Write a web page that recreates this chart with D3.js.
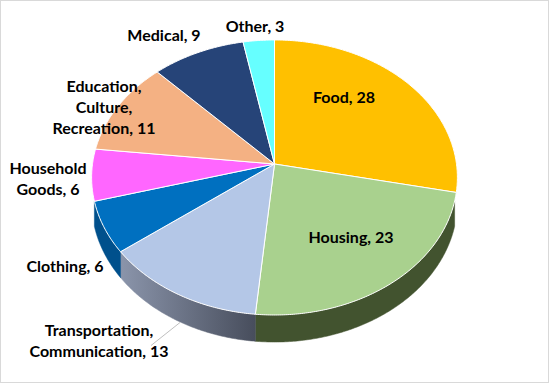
<!DOCTYPE html>
<html>
<head>
<meta charset="utf-8">
<script src="https://cdn.jsdelivr.net/npm/d3@7"></script>
<style>
  body { margin: 0; background: #fff; }
  svg { display: block; }
  .lbl { font-family: Lato, "Open Sans", sans-serif; font-weight: 700; font-size: 16px; fill: #000; }
</style>
</head>
<body>
<div id="chart"></div>
<script>
// spending shares
const categories = ["Food", "Housing", "Transportation, Communication", "Clothing",
  "Household Goods", "Education, Culture, Recreation", "Medical", "Other"];
const values = [28, 23, 13, 6, 6, 11, 9, 3];
const labelLines = [
  ["Food, 28"],
  ["Housing, 23"],
  ["Transportation,", "Communication, 13"],
  ["Clothing, 6"],
  ["Household", "Goods, 6"],
  ["Education,", "Culture,", "Recreation, 11"],
  ["Medical, 9"],
  ["Other, 3"]
];
const topColors = ["#FFC000", "#A9D18E", "#B4C7E7", "#0070C0", "#FF66FF", "#F4B183", "#264478", "#66FFFF"];
const sideColors = ["#a67d00", "#42532f", "url(#transGrad)", "#00508c", "#a642a6", "#9f7355", "#18294a", "#42a6a6"];

// label anchor points (center x, first baseline)
const labelPos = [[344, 103], [351, 243], [99, 336], [65, 272], [48, 174], [104, 92], [164, 41], [255, 32]];

const width = 550, height = 384;
const cx = 274.5, cy = 164, R = 182, K = 136.2, P = 0.098, depth = 24.4;
// part of the rim that faces the viewer
const sideFrom = Math.PI / 2 + 0.27, sideTo = 3 * Math.PI / 2 - 0.27;

const svg = d3.select("#chart").append("svg")
  .attr("width", width).attr("height", height);

const defs = svg.append("defs");
const tg = defs.append("linearGradient").attr("id", "transGrad")
  .attr("gradientUnits", "userSpaceOnUse")
  .attr("x1", 120).attr("x2", 256).attr("y1", 0).attr("y2", 0);
tg.append("stop").attr("offset", 0).attr("stop-color", "#8b95ab");
tg.append("stop").attr("offset", 1).attr("stop-color", "#474d5c");

svg.append("rect").attr("x", 0.5).attr("y", 0.5)
  .attr("width", width - 2).attr("height", height - 2)
  .attr("fill", "#fff").attr("stroke", "#d9d9d9");

// tilted disk with a bit of perspective
function proj(a, dy) {
  const u = Math.sin(a), v = -Math.cos(a);
  const den = 1 - P * v;
  return [cx + R * u / den, cy + K * v / den + (dy || 0) / den];
}
function arcPts(a0, a1, dy) {
  const n = Math.max(2, Math.ceil((a1 - a0) / 0.01));
  return d3.range(n + 1).map(i => proj(a0 + (a1 - a0) * i / n, dy));
}

const pie = d3.pie().sort(null).value(d => d);
const arcs = pie(values);

const line = d3.line();

// side walls
const sides = svg.append("g");
arcs.forEach((d, i) => {
  const a0 = Math.max(d.startAngle, sideFrom);
  const a1 = Math.min(d.endAngle, sideTo);
  if (a1 <= a0) return;
  const pts = arcPts(a0, a1, 0).concat(arcPts(a0, a1, depth).reverse());
  sides.append("path")
    .attr("d", line(pts) + "Z")
    .attr("fill", sideColors[i])
    .attr("stroke", sideColors[i])
    .attr("stroke-width", 0.5);
});

// top faces
const tops = svg.append("g");
arcs.forEach((d, i) => {
  const pts = [[cx, cy]].concat(arcPts(d.startAngle, d.endAngle, 0));
  tops.append("path")
    .attr("d", line(pts) + "Z")
    .attr("fill", topColors[i])
    .attr("stroke", "#fff")
    .attr("stroke-width", 1)
    .attr("stroke-linejoin", "round");
});

// leader line for transportation
svg.append("line")
  .attr("x1", 180).attr("y1", 322.5).attr("x2", 151).attr("y2", 345.5)
  .attr("stroke", "#bfbfbf").attr("stroke-width", 1);

const labels = svg.append("g");
labelLines.forEach((lines, i) => {
  const t = labels.append("text").attr("class", "lbl")
    .attr("text-anchor", "middle");
  lines.forEach((s, j) => {
    t.append("tspan").attr("x", labelPos[i][0])
      .attr("y", labelPos[i][1] + j * 20.8).text(s);
  });
});
</script>
</body>
</html>
